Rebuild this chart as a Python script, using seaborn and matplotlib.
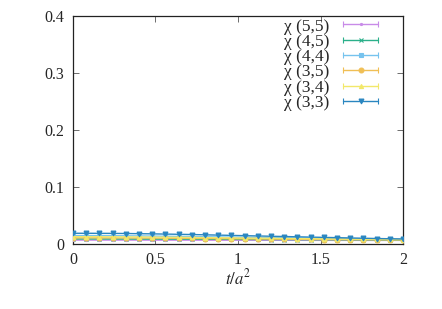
import numpy as np
import pandas as pd
import matplotlib
matplotlib.use("Agg")
import matplotlib.pyplot as plt
import seaborn as sns
from matplotlib.lines import Line2D
from matplotlib.legend_handler import HandlerLine2D, HandlerTuple

t = [0.00, 0.08, 0.16, 0.24, 0.32, 0.40, 0.48, 0.56, 0.64, 0.72, 0.80, 0.88, 0.96,
     1.04, 1.12, 1.20, 1.28, 1.36, 1.44, 1.52, 1.60, 1.68, 1.76, 1.84, 1.92, 2.00]

chi_55 = [0.0070, 0.0070, 0.0070, 0.0070, 0.0070, 0.0070, 0.0069, 0.0069, 0.0069, 0.0069,
          0.0068, 0.0068, 0.0068, 0.0068, 0.0067, 0.0067, 0.0067, 0.0067, 0.0066, 0.0066,
          0.0066, 0.0066, 0.0065, 0.0065, 0.0065, 0.0065]
chi_45 = [0.0090, 0.0090, 0.0090, 0.0089, 0.0089, 0.0088, 0.0088, 0.0087, 0.0087, 0.0086,
          0.0085, 0.0084, 0.0083, 0.0082, 0.0081, 0.0080, 0.0079, 0.0078, 0.0077, 0.0076,
          0.0075, 0.0074, 0.0073, 0.0072, 0.0071, 0.0070]
chi_44 = [0.0150, 0.0150, 0.0149, 0.0148, 0.0146, 0.0144, 0.0141, 0.0138, 0.0135, 0.0132,
          0.0129, 0.0126, 0.0123, 0.0120, 0.0117, 0.0114, 0.0111, 0.0108, 0.0105, 0.0102,
          0.0099, 0.0096, 0.0093, 0.0090, 0.0088, 0.0086]
chi_35 = [0.0110, 0.0110, 0.0110, 0.0109, 0.0108, 0.0107, 0.0106, 0.0104, 0.0102, 0.0100,
          0.0098, 0.0096, 0.0094, 0.0092, 0.0090, 0.0088, 0.0086, 0.0084, 0.0082, 0.0080,
          0.0079, 0.0078, 0.0077, 0.0076, 0.0075, 0.0075]
chi_34 = [0.0130, 0.0130, 0.0129, 0.0128, 0.0127, 0.0125, 0.0123, 0.0121, 0.0119, 0.0117,
          0.0114, 0.0112, 0.0110, 0.0107, 0.0104, 0.0102, 0.0099, 0.0096, 0.0094, 0.0091,
          0.0089, 0.0087, 0.0085, 0.0083, 0.0081, 0.0080]
chi_33 = [0.0190, 0.0190, 0.0189, 0.0188, 0.0186, 0.0183, 0.0180, 0.0176, 0.0172, 0.0168,
          0.0163, 0.0158, 0.0153, 0.0148, 0.0143, 0.0138, 0.0133, 0.0128, 0.0123, 0.0118,
          0.0113, 0.0108, 0.0103, 0.0098, 0.0094, 0.0090]
err = 0.0004

labels = ["χ (5,5)", "χ (4,5)", "χ (4,4)", "χ (3,5)", "χ (3,4)", "χ (3,3)"]
series = [chi_55, chi_45, chi_44, chi_35, chi_34, chi_33]
colors = ["#c88be8", "#2bb08a", "#76c3ee", "#f0bf55", "#f2e86a", "#2a86c0"]
markers = [".", "x", "s", "o", "^", "v"]
msizes = [3, 3.5, 3, 3.5, 3, 3.5]

sns.set_style("ticks")
plt.rcParams["font.family"] = "serif"
plt.rcParams["font.serif"] = ["Liberation Serif", "DejaVu Serif"]
plt.rcParams["mathtext.fontset"] = "stix"

fig = plt.figure(figsize=(4.42, 3.09), dpi=100)
ax = fig.add_axes([0.165, 0.21, 0.747, 0.738])

for lab, y, c, m, ms in zip(labels, series, colors, markers, msizes):
    d = pd.DataFrame({"t": t, "chi": y})
    sns.lineplot(data=d, x="t", y="chi", color=c, marker=m, markersize=ms,
                 markeredgewidth=0.8, markeredgecolor=c, linewidth=1.0,
                 ax=ax, zorder=3)
    ax.errorbar(t, y, yerr=err, fmt="none", ecolor=c, elinewidth=0.8,
                capsize=1.5, zorder=2)

ax.set_xlim(0, 2)
ax.set_ylim(0, 0.4)
ax.set_xticks([0, 0.5, 1, 1.5, 2])
ax.set_xticklabels(["0", "0.5", "1", "1.5", "2"])
ax.set_yticks([0, 0.1, 0.2, 0.3, 0.4])
ax.set_yticklabels(["0", "0.1", "0.2", "0.3", "0.4"])
ax.tick_params(direction="in", top=True, right=True, labelsize=11.5,
               length=4, width=0.6, pad=6, color="#555555")
for s in ax.spines.values():
    s.set_linewidth(0.9)
    s.set_color("#222222")
ax.set_xlabel("$t/a^2$", fontsize=12, labelpad=0)
ax.set_ylabel("")

handles = []
hmap = {}
for c, m, ms in zip(colors, markers, msizes):
    cap = Line2D([], [], color=c, lw=1.0, marker="|", markersize=5, markeredgewidth=0.8)
    mk = Line2D([], [], color=c, lw=0, marker=m, markersize=ms, markeredgewidth=0.8)
    hmap[cap] = HandlerLine2D(numpoints=2)
    hmap[mk] = HandlerLine2D(numpoints=1)
    handles.append((cap, mk))
hmap[tuple] = HandlerTuple(ndivide=1, pad=0)
leg = ax.legend(handles, labels, handler_map=hmap, loc="upper right",
                bbox_to_anchor=(0.94, 0.99), frameon=False, markerfirst=False,
                fontsize=12.5, handlelength=2.6, handletextpad=0.5,
                labelspacing=-0.05, borderaxespad=0, borderpad=0)
for txt in leg.get_texts():
    txt.set_ha("right")

fig.savefig("out.png", dpi=100)
